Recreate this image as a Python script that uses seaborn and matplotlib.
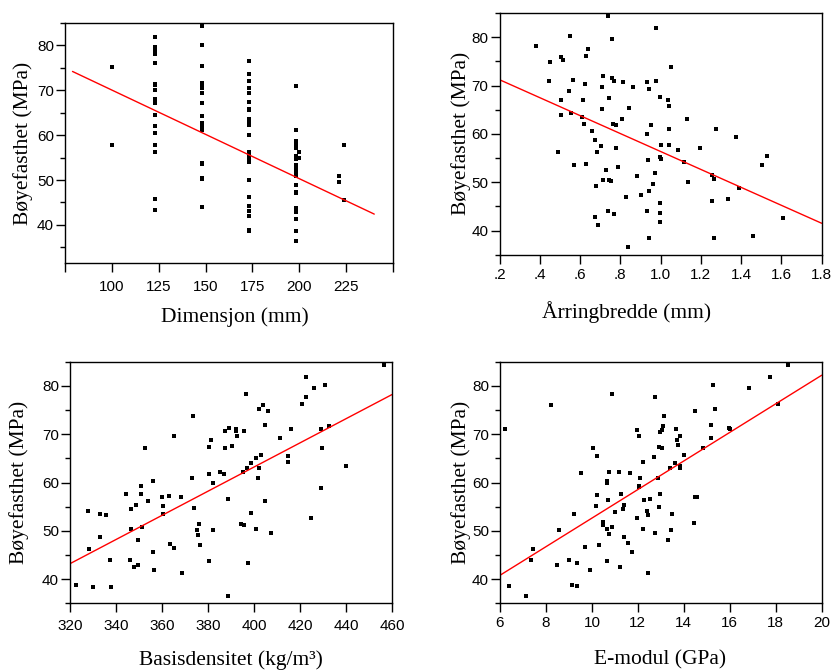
import matplotlib
matplotlib.use("Agg")
import matplotlib.pyplot as plt
import matplotlib.ticker as mticker
from matplotlib.path import Path
import seaborn as sns
import pandas as pd

# ---------------- data ----------------
# Panel 1: Dimensjon (mm) vs Bøyefasthet (MPa)
dim_levels = [100, 123, 148, 173, 198, 200, 221, 224]
dim_100 = [75.1, 57.7]
dim_123 = [81.9, 79.6, 78.7, 78.1, 76.1, 71.5, 71.1, 70.1, 68.1, 67.6, 67.2,
           64.5, 62.1, 60.4, 57.7, 56.3, 45.7, 43.3]
dim_148 = [84.3, 80.2, 75.4, 71.6, 71.1, 70.6, 69.3, 67.2, 64.2, 62.8, 62.2,
           61.7, 61.2, 53.8, 53.6, 50.4, 50.2, 44.0]
dim_173 = [76.5, 73.7, 72.0, 70.6, 69.3, 67.5, 65.9, 65.5, 63.5, 63.1, 62.2,
           60.1, 56.3, 55.9, 55.3, 54.7, 54.1, 50.1, 46.3, 44.3, 43.0, 41.9,
           38.9, 38.6]
dim_198 = [71.0, 61.1, 58.7, 57.7, 57.1, 55.3, 54.6, 53.4, 52.8, 51.9, 51.6,
           50.8, 48.9, 47.4, 47.1, 43.7, 42.9, 41.3, 38.6, 36.5]
dim_200 = [56.2, 54.8]
dim_221 = [50.9, 49.5]
dim_224 = [57.7, 45.6]
dim_fit_x = [79, 240]
dim_fit_y = [74.2, 42.4]

# Panel 2: Årringbredde (mm)
aar_x = [0.739, 0.979, 0.379, 0.551, 0.759, 0.638, 0.632, 0.504, 0.513, 0.450,
         1.052, 0.445, 0.566, 0.716, 0.757, 0.771, 0.931, 0.978, 0.811, 0.625,
         0.711, 0.863, 0.943, 0.544, 0.746, 0.504, 0.617, 0.996, 1.037, 1.044,
         0.844, 0.710, 0.506, 0.557, 0.610, 0.806, 1.132, 0.619, 0.763, 0.777,
         0.951, 0.658, 1.044, 1.277, 0.931, 1.375, 0.676, 0.705, 0.777, 1.002,
         1.044, 1.196, 1.084, 0.491, 0.683, 0.998, 1.002, 1.530, 0.938, 1.117,
         0.572, 0.630, 0.786, 1.504, 0.731, 0.716, 0.746, 0.752, 0.885, 0.971,
         1.137, 1.257, 1.264, 0.678, 0.964, 1.390, 0.943, 0.905, 0.830, 1.257,
         1.337, 0.998, 0.739, 0.771, 0.931, 0.998, 0.676, 1.610, 0.998, 0.689,
         0.943, 1.264, 1.458, 0.839]
aar_y = [84.3, 81.8, 78.2, 80.2, 79.6, 77.6, 76.2, 75.9, 75.2, 74.9,
         73.8, 71.0, 71.2, 71.9, 71.5, 71.0, 70.7, 71.0, 70.7, 70.4,
         69.6, 69.6, 69.3, 68.8, 67.4, 67.1, 67.1, 67.7, 67.1, 65.7,
         65.4, 65.2, 64.0, 64.3, 63.5, 63.0, 63.0, 62.1, 62.1, 61.9,
         61.8, 60.5, 61.0, 61.0, 59.9, 59.4, 58.8, 57.4, 57.1, 57.7,
         57.7, 57.1, 56.6, 56.3, 56.3, 55.2, 54.9, 55.4, 54.6, 54.1,
         53.5, 53.8, 53.2, 53.5, 52.6, 50.4, 50.4, 50.2, 51.2, 51.8,
         50.1, 51.5, 50.7, 49.3, 49.6, 48.8, 48.2, 47.4, 47.0, 46.2,
         46.5, 45.7, 44.0, 43.4, 44.0, 43.7, 42.9, 42.6, 41.8, 41.2,
         38.5, 38.5, 38.8, 36.5]
aar_fit_x = [0.2, 1.8]
aar_fit_y = [71.2, 41.5]

# Panel 3: Basisdensitet (kg/m3)
dens_x = [456.4, 422.6, 430.8, 426.1, 396.5, 422.4, 403.9, 402.1, 406.0, 420.8,
          373.4, 405.0, 389.3, 387.5, 392.1, 392.2, 395.7, 416.0, 429.1, 432.6,
          365.4, 392.7, 411.4, 381.2, 352.5, 380.5, 387.5, 390.5, 429.5, 402.9,
          400.9, 415.0, 398.8, 415.0, 440.0, 397.0, 402.3, 395.2, 385.1, 386.9,
          380.5, 373.0, 401.7, 356.0, 382.2, 350.8, 344.2, 350.8, 360.0, 362.9,
          368.3, 353.7, 405.0, 360.6, 348.6, 374.0, 346.6, 388.8, 429.1, 327.8,
          333.2, 335.5, 360.6, 398.6, 425.0, 376.2, 394.4, 395.7, 351.3, 346.6,
          375.1, 382.2, 400.9, 407.3, 375.8, 333.2, 349.6, 363.5, 365.4, 376.4,
          328.4, 356.0, 337.3, 346.0, 380.5, 397.5, 347.7, 349.6, 356.6, 368.9,
          322.6, 330.2, 337.8, 388.8]
dens_y = [84.3, 81.9, 80.2, 79.6, 78.3, 77.7, 76.0, 75.2, 74.9, 76.3,
          73.8, 71.8, 71.3, 70.7, 71.0, 70.6, 70.7, 71.0, 71.0, 71.6,
          69.6, 69.6, 69.3, 68.7, 67.1, 67.4, 67.1, 67.6, 67.1, 65.7,
          65.1, 65.4, 64.0, 64.3, 63.5, 62.9, 62.9, 62.1, 62.1, 61.8,
          61.8, 61.0, 61.0, 60.4, 59.8, 59.3, 57.6, 57.6, 57.1, 57.3,
          57.1, 56.2, 56.2, 55.1, 55.4, 54.8, 54.6, 56.5, 58.8, 54.0,
          53.5, 53.2, 53.5, 53.7, 52.6, 51.5, 51.5, 51.3, 50.7, 50.4,
          50.1, 50.1, 50.4, 49.5, 49.2, 48.7, 48.1, 47.3, 46.5, 47.0,
          46.2, 45.7, 44.0, 44.0, 43.7, 43.4, 42.6, 42.9, 41.8, 41.2,
          38.7, 38.4, 38.4, 36.5]
dens_fit_x = [320, 460]
dens_fit_y = [43.2, 78.2]

# Panel 4: E-modul (GPa)
emod_x = [18.52, 17.77, 16.83, 15.25, 18.10, 15.35, 14.48, 8.20, 10.88, 12.75,
          13.15, 6.20, 11.98, 12.05, 12.98, 13.04, 13.10, 13.67, 13.69, 13.85,
          13.73, 15.19, 15.19, 15.95, 16.02, 12.93, 13.04, 14.83, 10.05, 10.23,
          12.69, 14.02, 12.21, 13.62, 13.38, 13.85, 13.85, 9.53, 10.76, 11.17,
          11.65, 10.64, 10.64, 12.11, 12.88, 12.04, 12.04, 10.23, 11.28, 12.98,
          14.48, 14.57, 10.72, 12.27, 12.51, 10.18, 11.40, 11.34, 12.93, 9.20,
          10.99, 12.40, 12.46, 13.50, 8.55, 10.47, 10.47, 10.88, 10.64, 11.98,
          12.23, 13.44, 14.44, 10.76, 12.75, 11.40, 13.33, 11.59, 10.30, 9.71,
          7.45, 11.75, 7.33, 9.01, 10.64, 9.33, 8.49, 11.23, 9.90, 12.46,
          6.39, 9.13, 9.37, 7.14]
emod_y = [84.3, 81.9, 79.6, 80.2, 76.3, 75.2, 74.9, 76.0, 78.3, 77.7,
          73.8, 71.0, 70.8, 69.7, 70.5, 70.8, 71.6, 71.0, 68.8, 69.7,
          67.7, 71.9, 69.3, 71.3, 71.0, 67.4, 67.1, 67.1, 67.1, 65.4,
          65.2, 65.7, 64.3, 64.1, 63.0, 63.5, 63.0, 61.9, 62.1, 62.1,
          61.9, 60.4, 59.9, 61.0, 61.0, 59.3, 59.0, 57.4, 57.7, 57.7,
          57.1, 57.1, 56.3, 56.3, 56.6, 55.2, 55.4, 54.6, 54.9, 53.5,
          53.8, 54.1, 53.2, 53.5, 50.1, 51.8, 51.3, 50.7, 50.4, 52.7,
          50.4, 50.1, 51.6, 49.3, 49.6, 48.8, 48.2, 47.4, 47.1, 46.6,
          46.3, 45.7, 44.0, 44.0, 43.7, 43.4, 42.9, 42.6, 41.8, 41.2,
          38.5, 38.8, 38.5, 36.5]
emod_fit_x = [6, 20]
emod_fit_y = [40.8, 82.2]

y_label = "Bøyefasthet (MPa)"
x_labels = ["Dimensjon (mm)", "Årringbredde (mm)",
            "Basisdensitet (kg/m³)", "E-modul (GPa)"]
dim_ticks = [75, 100, 125, 150, 175, 200, 225, 250]
dim_ticklabels = ["", "100", "125", "150", "175", "200", "225", ""]
aar_ticks = [0.2, 0.4, 0.6, 0.8, 1.0, 1.2, 1.4, 1.6, 1.8]
aar_ticklabels = [".2", ".4", ".6", ".8", "1.0", "1.2", "1.4", "1.6", "1.8"]
dens_ticks = [320, 340, 360, 380, 400, 420, 440, 460]
emod_ticks = [6, 8, 10, 12, 14, 16, 18, 20]

# ---------------- build frames ----------------
dim_groups = [dim_100, dim_123, dim_148, dim_173, dim_198, dim_200, dim_221, dim_224]
dim_x, dim_y = [], []
for lvl, vals in zip(dim_levels, dim_groups):
    dim_x += [lvl] * len(vals)
    dim_y += vals

panels = [
    (pd.DataFrame({"x": dim_x, "y": dim_y}), pd.DataFrame({"x": dim_fit_x, "y": dim_fit_y})),
    (pd.DataFrame({"x": aar_x, "y": aar_y}), pd.DataFrame({"x": aar_fit_x, "y": aar_fit_y})),
    (pd.DataFrame({"x": dens_x, "y": dens_y}), pd.DataFrame({"x": dens_fit_x, "y": dens_fit_y})),
    (pd.DataFrame({"x": emod_x, "y": emod_y}), pd.DataFrame({"x": emod_fit_x, "y": emod_fit_y})),
]

# small horizontal rectangle marker
rect_marker = Path([(-1, -0.7), (1, -0.7), (1, 0.7), (-1, 0.7), (-1, -0.7)],
                   [Path.MOVETO, Path.LINETO, Path.LINETO, Path.LINETO, Path.CLOSEPOLY])

# ---------------- style ----------------
sns.set_style("ticks")
plt.rcParams["font.family"] = ["Liberation Sans", "DejaVu Sans"]
plt.rcParams["axes.linewidth"] = 1.0
plt.rcParams["axes.edgecolor"] = "black"

W, H = 835, 672
fig = plt.figure(figsize=(W / 100, H / 100), dpi=100)

# axes boxes in pixel coords: left, right, top, bottom
boxes = [(65, 393, 23, 263), (499.5, 821.7, 13, 254.7),
         (70, 392, 361.7, 603.3), (500, 821.7, 361.7, 603.3)]
xlims = [(75, 250), (0.2, 1.8), (320, 460), (6, 20)]
ylims = [(31.5, 85), (35, 85), (35, 85), (35, 85)]
ylab_x = [-0.097, -0.088, -0.127, -0.090]
xlab_pos = [(0.518, -0.185), (0.394, -0.19), (0.5, -0.195), (0.497, -0.195)]
xpads = [5.5, 3.0, 5.0, 3.0]

serif = ["Liberation Serif", "DejaVu Serif"]

for i, (pts, fit) in enumerate(panels):
    l, r, t, b = boxes[i]
    ax = fig.add_axes([l / W, 1 - b / H, (r - l) / W, (b - t) / H])
    sns.scatterplot(data=pts, x="x", y="y", ax=ax, marker=rect_marker, s=11,
                    color="black", linewidth=0, legend=False)
    sns.lineplot(data=fit, x="x", y="y", ax=ax, color="#ff0000",
                 linewidth=1.0, legend=False)
    ax.set_xlim(*xlims[i])
    ax.set_ylim(*ylims[i])
    for s in ax.spines.values():
        s.set_visible(True)
        s.set_color("black")
        s.set_linewidth(1.0)
    ax.yaxis.set_major_locator(mticker.FixedLocator([40, 50, 60, 70, 80]))
    ax.yaxis.set_minor_locator(mticker.FixedLocator([35, 45, 55, 65, 75, 85]))
    if i == 0:
        ax.set_xticks(dim_ticks)
        ax.set_xticklabels(dim_ticklabels)
    elif i == 1:
        ax.set_xticks(aar_ticks)
        ax.set_xticklabels(aar_ticklabels)
    elif i == 2:
        ax.set_xticks(dens_ticks)
        ax.set_xticklabels([str(v) for v in dens_ticks])
    else:
        ax.set_xticks(emod_ticks)
        ax.set_xticklabels([str(v) for v in emod_ticks])
    ax.tick_params(axis="both", which="major", direction="out", length=6.5,
                   width=1.0, labelsize=11, color="black", labelcolor="black")
    ax.tick_params(axis="y", which="minor", direction="out", length=3.5,
                   width=1.0, color="black")
    ax.tick_params(axis="y", which="major", pad=1.5)
    ax.tick_params(axis="x", which="major", pad=xpads[i])
    ax.set_ylabel(y_label, fontsize=15.5, family=serif, color="black")
    ax.set_xlabel(x_labels[i], fontsize=15.5, family=serif, color="black")
    ax.yaxis.set_label_coords(ylab_x[i], 0.5)
    ax.xaxis.set_label_coords(*xlab_pos[i])
    ax.set_facecolor("white")

fig.savefig("out.png", dpi=100, facecolor="white")
